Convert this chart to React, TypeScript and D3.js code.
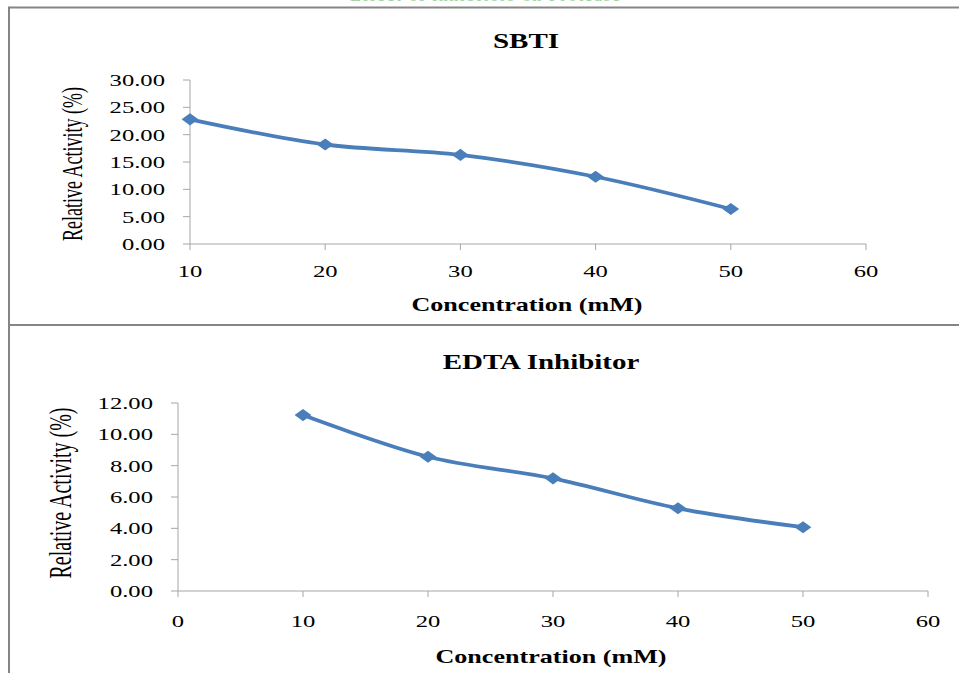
import React from "react";
import * as d3 from "d3";

const concentrations = [10, 20, 30, 40, 50];
const sbtiActivity = [22.8, 18.2, 16.3, 12.3, 6.4];
const edtaActivity = [11.23, 8.57, 7.19, 5.28, 4.07];

const sbtiXTicks = [10, 20, 30, 40, 50, 60];
const sbtiYTicks = [0, 5, 10, 15, 20, 25, 30];
const edtaXTicks = [0, 10, 20, 30, 40, 50, 60];
const edtaYTicks = [0, 2, 4, 6, 8, 10, 12];

const W = 959;
const H = 673;
const SX = 1.45; // horizontal stretch of the original image
const SERIF = "'Liberation Serif', 'Times New Roman', serif";
const LINE = "#4A7EBB";
const AXIS = "#A6A6A6";
const FRAME = "#858585";

type PanelProps = {
  title: string;
  xs: number[];
  ys: number[];
  xDomain: [number, number];
  xRange: [number, number];
  yDomain: [number, number];
  yRange: [number, number];
  xTicks: number[];
  yTicks: number[];
  titleX: number;
  titleY: number;
  xTitleX: number;
  xTitleY: number;
  yTitleX: number;
  yTitleY: number;
  yTitleSize: number;
  xLabelDy: number;
};

function SText(props: {
  x: number;
  y: number;
  size: number;
  weight?: string;
  anchor?: string;
  children: React.ReactNode;
  fill?: string;
  dy?: string;
}) {
  const { x, y, size, weight, anchor, children, fill, dy } = props;
  return (
    <text
      transform={`translate(${x},${y}) scale(${SX},1)`}
      fontFamily={SERIF}
      fontSize={size}
      fontWeight={weight || "normal"}
      textAnchor={anchor || "middle"}
      fill={fill || "#000"}
      dy={dy}
    >
      {children}
    </text>
  );
}

function Panel(p: PanelProps) {
  const x = d3.scaleLinear().domain(p.xDomain).range(p.xRange);
  const y = d3.scaleLinear().domain(p.yDomain).range(p.yRange);
  const pts: [number, number][] = p.xs.map((v, i) => [x(v), y(p.ys[i])]);
  const line = d3.line().curve(d3.curveCatmullRom.alpha(0))(pts) || "";
  const marker = d3.symbol(d3.symbolSquare, 74)() || "";
  const y0 = y(p.yDomain[0]);
  const x0 = p.xRange[0];
  return (
    <g>
      <SText x={p.titleX} y={p.titleY} size={20} weight="bold">
        {p.title}
      </SText>
      {/* axes */}
      <line x1={x0} x2={p.xRange[1]} y1={y0} y2={y0} stroke={AXIS} strokeWidth={1} />
      <line x1={x0} x2={x0} y1={p.yRange[0]} y2={p.yRange[1]} stroke={AXIS} strokeWidth={1} />
      {p.yTicks.map((t) => (
        <g key={"y" + t}>
          <line x1={x0 - 7} x2={x0} y1={y(t)} y2={y(t)} stroke={AXIS} strokeWidth={1} />
          <SText x={x0 - 25} y={y(t)} size={17} anchor="end" dy="0.35em">
            {d3.format(".2f")(t)}
          </SText>
        </g>
      ))}
      {p.xTicks.map((t) => (
        <g key={"x" + t}>
          <line x1={x(t)} x2={x(t)} y1={y0} y2={y0 + 6} stroke={AXIS} strokeWidth={1} />
          <SText x={x(t)} y={y0 + p.xLabelDy} size={17}>
            {t}
          </SText>
        </g>
      ))}
      <SText x={p.xTitleX} y={p.xTitleY} size={18} weight="bold">
        Concentration (mM)
      </SText>
      <text
        transform={`translate(${p.yTitleX},${p.yTitleY}) rotate(-90) scale(1,1.6)`}
        fontFamily={SERIF}
        fontSize={p.yTitleSize}
        textAnchor="middle"
        dy="0.35em"
        fill="#000"
      >
        Relative Activity (%)
      </text>
      <path d={line} fill="none" stroke={LINE} strokeWidth={3.8} strokeLinejoin="round" />
      {pts.map((q, i) => (
        <path
          key={"m" + i}
          d={marker}
          fill={LINE}
          transform={`translate(${q[0]},${q[1]}) scale(1.38,1) rotate(45)`}
        />
      ))}
    </g>
  );
}

export default function App() {
  return (
    <svg
      width={W}
      height={H}
      style={{ position: "absolute", left: 0, top: 0, background: "#fff" }}
    >
      <rect x={0} y={0} width={W} height={H} fill="#fff" />
      <text
        x={485}
        y={0.5}
        fontFamily={SERIF}
        fontSize={18}
        fill="#9FD49F"
        textAnchor="middle"
        textLength={270}
      >
        Effect of inhibitors on Protease
      </text>
      {/* frame */}
      <line x1={9} x2={W} y1={7.5} y2={7.5} stroke={FRAME} strokeWidth={2} />
      <line x1={9} x2={9} y1={6.5} y2={H} stroke={FRAME} strokeWidth={2} />
      <line x1={9} x2={W} y1={325} y2={325} stroke={FRAME} strokeWidth={2} />
      <Panel
        title="SBTI"
        xs={concentrations}
        ys={sbtiActivity}
        xDomain={[10, 60]}
        xRange={[190, 866]}
        yDomain={[0, 30]}
        yRange={[244, 80]}
        xTicks={sbtiXTicks}
        yTicks={sbtiYTicks}
        titleX={526}
        titleY={48}
        xTitleX={527}
        xTitleY={311}
        yTitleX={72}
        yTitleY={164}
        yTitleSize={18}
        xLabelDy={33}
      />
      <Panel
        title="EDTA Inhibitor"
        xs={concentrations}
        ys={edtaActivity}
        xDomain={[0, 60]}
        xRange={[178, 928]}
        yDomain={[0, 12]}
        yRange={[591, 403]}
        xTicks={edtaXTicks}
        yTicks={edtaYTicks}
        titleX={541}
        titleY={369}
        xTitleX={551}
        xTitleY={663}
        yTitleX={60}
        yTitleY={493}
        yTitleSize={20}
        xLabelDy={36}
      />
    </svg>
  );
}
